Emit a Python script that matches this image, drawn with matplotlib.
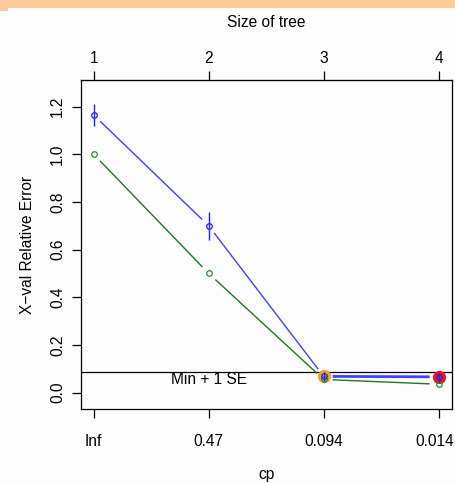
import numpy as np
import matplotlib
matplotlib.use("Agg")
import matplotlib.pyplot as plt
from matplotlib.patches import Rectangle
from matplotlib.transforms import ScaledTranslation

# Data
tree_size = [1, 2, 3, 4]
cp_labels = ["Inf", "0.47", "0.094", "0.014"]
xerror = [1.165, 0.70, 0.068, 0.066]
xstd = [0.045, 0.06, 0.02, 0.02]
rel_error = [1.0, 0.5, 0.055, 0.035]

plt.rcParams['font.family'] = ['Liberation Sans', 'DejaVu Sans']
fs = 11.2

W, H = 456, 483
fig = plt.figure(figsize=(W / 100, H / 100), dpi=100, facecolor='#FDFDFD')
fig.patches.append(Rectangle((0, 1 - 8 / H), 1, 8 / H, transform=fig.transFigure,
                             facecolor='#FFCC99', edgecolor='none', zorder=0))
fig.patches.append(Rectangle((0, 1 - 11 / H), 8 / W, 3 / H, transform=fig.transFigure,
                             facecolor='#FFCC99', edgecolor='none', zorder=0))

ax = fig.add_axes([80.7 / W, 1 - 409 / H, (452 - 80.7) / W, (409 - 80) / H])
ax.set_facecolor('#FDFDFD')
ax.set_xlim(0.887, 4.116)
ax.set_ylim(-0.069, 1.312)

x = np.array(tree_size, dtype=float)


def gapped_line(xs, ys, color, gap_px=9, lws=None):
    fig.canvas.draw()
    pts = ax.transData.transform(np.column_stack([xs, ys]))
    inv = ax.transData.inverted()
    for i in range(len(pts) - 1):
        p0, p1 = pts[i], pts[i + 1]
        d = p1 - p0
        L = np.hypot(*d)
        u = d / L
        a = inv.transform(p0 + u * gap_px)
        b = inv.transform(p1 - u * gap_px)
        lw = lws[i] if lws else 1.0
        ax.plot([a[0], b[0]], [a[1], b[1]], color=color, lw=lw, zorder=2,
                solid_capstyle='butt')


# highlight circles
ax.plot(x[2], xerror[2], 'o', ms=8.5, color='#F5A020', mec='#F5A020', zorder=3)
ax.plot(x[3], xerror[3], 'o', ms=8.5, color='#FF1010', mec='#FF1010', zorder=3)

# green rel error
gapped_line(x, rel_error, '#1E7A1E', gap_px=9)
ax.plot(x, rel_error, 'o', ms=4, mfc='none', mec='#2E8B2E', mew=0.9, zorder=4)

# blue xerror
gapped_line(x, xerror, '#4040FF', gap_px=9, lws=[1.0, 1.0, 2.0])
ax.plot(x, xerror, 'o', ms=4, mfc='none', mec='#2020FF', mew=0.9, zorder=5)
ax.vlines(x, np.array(xerror) - np.array(xstd), np.array(xerror) + np.array(xstd),
          color='#2020FF', lw=1.0, zorder=5)

# min + 1 SE line
imin = int(np.argmin(xerror))
hval = xerror[imin] + xstd[imin]
ax.axhline(hval, color='black', lw=0.9, zorder=1)
ax.text(2.0, hval, "Min + 1 SE", ha='center', va='top', fontsize=fs, zorder=6)

# axes styling
for s in ax.spines.values():
    s.set_linewidth(0.9)
ax.set_xticks(tree_size)
ax.set_xticklabels(cp_labels, fontsize=fs)
ax.set_yticks([0.0, 0.2, 0.4, 0.6, 0.8, 1.0, 1.2])
ax.set_yticklabels(["0.0", "0.2", "0.4", "0.6", "0.8", "1.0", "1.2"], fontsize=fs,
                   rotation=90, va='center')
ax.tick_params(axis='both', direction='out', length=6.3, width=0.9, pad=12)
ax.tick_params(axis='y', pad=5)
ax.set_xlabel("cp", fontsize=fs, labelpad=13)
ax.set_ylabel("X\u2212val Relative Error", fontsize=fs, labelpad=11)

last = ax.get_xticklabels()[-1]
last.set_transform(last.get_transform() + ScaledTranslation(-4 / 100, 0, fig.dpi_scale_trans))

top = ax.secondary_xaxis('top')
top.set_xticks(tree_size)
top.set_xticklabels([str(t) for t in tree_size], fontsize=fs)
top.tick_params(direction='out', length=6.3, width=0.9, pad=4)
top.set_xlabel("Size of tree", fontsize=fs, labelpad=17)

fig.savefig("out.png", dpi=100, facecolor=fig.get_facecolor())
